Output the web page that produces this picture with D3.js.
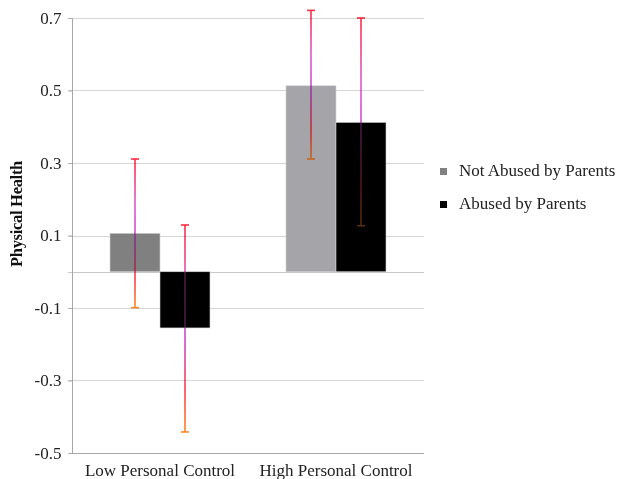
<!DOCTYPE html>
<html>
<head>
<meta charset="utf-8">
<script src="https://cdn.jsdelivr.net/npm/d3@7"></script>
<style>
  body { margin: 0; background: #fff; }
  text { font-family: "Liberation Serif", "Times New Roman", serif; }
</style>
</head>
<body>
<svg id="chart" width="621" height="479"></svg>
<script>
// chart data
const groups = ["Low Personal Control", "High Personal Control"];
const seriesNames = ["Not Abused by Parents", "Abused by Parents"];
const notAbused = [0.106, 0.513];
const abused = [-0.155, 0.412];
const notAbusedLow = [-0.099, 0.311];
const notAbusedHigh = [0.311, 0.721];
const abusedLow = [-0.442, 0.127];
const abusedHigh = [0.129, 0.700];
const yTicks = [-0.5, -0.3, -0.1, 0.1, 0.3, 0.5, 0.7];

const barColors = [["#808080", "#a5a5a9"], ["#000000", "#000000"]];
const legendColors = ["#808080", "#000000"];

const svg = d3.select("#chart");
const margin = {left: 72, right: 197, top: 18, bottom: 26};
const W = 621, H = 479;
const fontSize = "17px";

const x = d3.scaleBand()
    .domain(groups)
    .range([margin.left, W - margin.right])
    .paddingInner(0)
    .paddingOuter(0);

const y = d3.scaleLinear()
    .domain([-0.5, 0.7])
    .range([H - margin.bottom, margin.top]);

const barW = 50;

// gradient for the error bars
const defs = svg.append("defs");
const grad = defs.append("linearGradient")
    .attr("id", "errGrad")
    .attr("x1", 0).attr("y1", 0).attr("x2", 0).attr("y2", 1);
[["0", "#ff2f45"], ["0.3", "#dc5fcf"], ["0.55", "#c84fd0"], ["0.8", "#ff3f4f"], ["1", "#ff8a2a"]]
    .forEach(s => grad.append("stop").attr("offset", s[0]).attr("stop-color", s[1]));

// gridlines
svg.append("g")
    .selectAll("line")
    .data(yTicks.filter(d => d !== -0.5).concat([0]))
    .join("line")
    .attr("x1", margin.left - 4)
    .attr("x2", W - margin.right)
    .attr("y1", d => Math.round(y(d)) + 0.5)
    .attr("y2", d => Math.round(y(d)) + 0.5)
    .attr("stroke", d => d === 0 ? "#c8c8c8" : "#d6d6d6")
    .attr("stroke-width", 1);

// y axis
const yAxis = svg.append("g")
    .attr("transform", `translate(${margin.left + 0.5},0)`)
    .attr("font-family", "Liberation Serif")
    .call(d3.axisLeft(y).tickValues(yTicks).tickSize(4)
        .tickFormat(d => d3.format(".1f")(d).replace("\u2212", "-")));
yAxis.attr("font-family", "Liberation Serif").attr("font-size", fontSize);
yAxis.select(".domain").attr("stroke", "#a8a8a8").attr("d", `M0,${y(0.7)}V${y(-0.5)}`);
yAxis.selectAll(".tick line").attr("stroke", "#a8a8a8");
yAxis.selectAll(".tick text")
    .attr("x", -11)
    .attr("fill", "#222");

// x axis baseline
svg.append("line")
    .attr("x1", margin.left)
    .attr("x2", W - margin.right)
    .attr("y1", Math.round(y(-0.5)) + 0.5)
    .attr("y2", Math.round(y(-0.5)) + 0.5)
    .attr("stroke", "#a8a8a8");

svg.append("g")
    .selectAll("text")
    .data(groups)
    .join("text")
    .attr("x", d => x(d) + x.bandwidth() / 2)
    .attr("y", 476)
    .attr("text-anchor", "middle")
    .attr("fill", "#222")
    .style("font-size", fontSize)
    .text(d => d);

// bars
const seriesVals = [notAbused, abused];
const lows = [notAbusedLow, abusedLow];
const highs = [notAbusedHigh, abusedHigh];

seriesVals.forEach((vals, s) => {
    svg.append("g")
        .selectAll("rect")
        .data(vals)
        .join("rect")
        .attr("x", (d, i) => x(groups[i]) + x.bandwidth() / 2 - barW + s * barW)
        .attr("width", barW)
        .attr("y", d => y(Math.max(0, d)))
        .attr("height", d => Math.abs(y(d) - y(0)))
        .attr("fill", (d, i) => barColors[s][i])
        .attr("stroke", "#d0d0d0")
        .attr("stroke-width", 0.6);
});

// error bars: multiplied layer plus a faint normal layer so they stay visible on black
function drawErrors(g) {
    seriesVals.forEach((vals, s) => {
        vals.forEach((d, i) => {
            const cx = x(groups[i]) + x.bandwidth() / 2 - barW / 2 + s * barW;
            const top = y(highs[s][i]), bot = y(lows[s][i]);
            g.append("rect")
                .attr("x", cx - 0.75)
                .attr("width", 1.5)
                .attr("y", top)
                .attr("height", bot - top)
                .attr("fill", "url(#errGrad)");
            g.append("line")
                .attr("x1", cx - 4).attr("x2", cx + 4)
                .attr("y1", top).attr("y2", top)
                .attr("stroke", "#ff2f45").attr("stroke-width", 1.5);
            g.append("line")
                .attr("x1", cx - 4).attr("x2", cx + 4)
                .attr("y1", bot).attr("y2", bot)
                .attr("stroke", "#ff8a2a").attr("stroke-width", 1.5);
        });
    });
}
drawErrors(svg.append("g").style("mix-blend-mode", "multiply"));
drawErrors(svg.append("g").attr("opacity", 0.35));

// y title
svg.append("text")
    .attr("transform", "translate(22,214) rotate(-90)")
    .attr("text-anchor", "middle")
    .attr("fill", "#111")
    .style("font-size", "16.5px")
    .style("font-weight", "bold")
    .style("letter-spacing", "-0.3px")
    .text("Physical Health");

// legend
const legend = svg.append("g")
    .selectAll("g")
    .data(seriesNames)
    .join("g")
    .attr("transform", (d, i) => `translate(440,${176 + i * 33})`);

legend.append("rect")
    .attr("x", 0).attr("y", -8)
    .attr("width", 7).attr("height", 7)
    .attr("fill", (d, i) => legendColors[i]);

legend.append("text")
    .attr("x", 19)
    .attr("y", 0)
    .attr("fill", "#222")
    .style("font-size", fontSize)
    .text(d => d);
</script>
</body>
</html>
